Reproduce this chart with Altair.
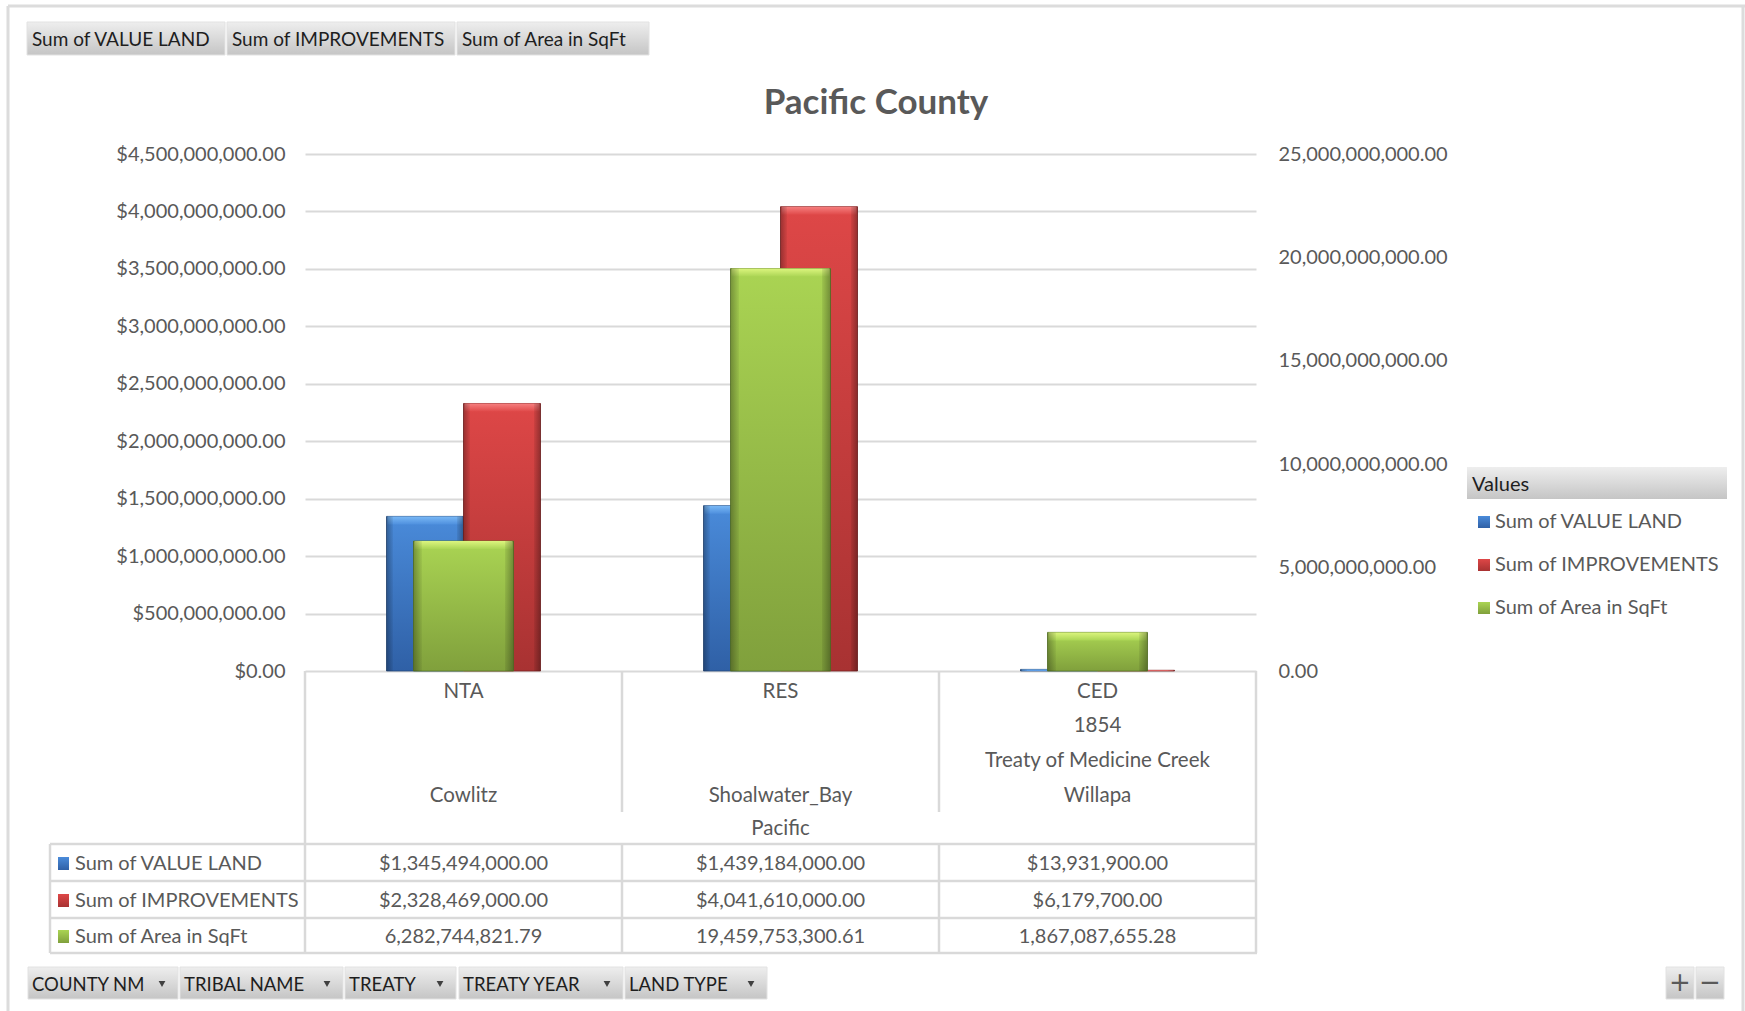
import altair as alt
import pandas as pd

# ---------------- data ----------------
land_types = ["NTA", "RES", "CED"]
treaty_years = ["", "", "1854"]
treaties = ["", "", "Treaty of Medicine Creek"]
tribal_names = ["Cowlitz", "Shoalwater_Bay", "Willapa"]
county_name = "Pacific"
value_land = [1345494000.00, 1439184000.00, 13931900.00]
improvements = [2328469000.00, 4041610000.00, 6179700.00]
area_sqft = [6282744821.79, 19459753300.61, 1867087655.28]
series_labels = ["Sum of VALUE LAND", "Sum of IMPROVEMENTS", "Sum of Area in SqFt"]
left_ticks = [0, 500000000, 1000000000, 1500000000, 2000000000,
              2500000000, 3000000000, 3500000000, 4000000000, 4500000000]
right_ticks = [0, 5000000000, 10000000000, 15000000000, 20000000000, 25000000000]
chart_title = "Pacific County"
legend_title = "Values"
field_buttons = ["COUNTY NM", "TRIBAL NAME", "TREATY", "TREATY YEAR", "LAND TYPE"]

df = pd.DataFrame({
    "land_type": land_types,
    "treaty_year": treaty_years,
    "treaty": treaties,
    "tribe": tribal_names,
    "value_land": value_land,
    "improvements": improvements,
    "area": area_sqft,
})
one = pd.DataFrame({"k": [0]})

# ---------------- layout ----------------
W, H = 951, 517
PL, PT = 305, 154
PR, PB = 1745 - PL - W, 1011 - PT - H
FONT = "Lato"
GRAY = "#595959"
LINE = "#d9d9d9"
FS = 20


def rx(v):
    return v - PL


def ry(v):
    return v - PT


def lin(stops, horizontal=False):
    return alt.LinearGradient(
        gradient="linear",
        stops=[alt.GradientStop(offset=o, color=c) for o, c in stops],
        x1=0, y1=0, x2=1 if horizontal else 0, y2=0 if horizontal else 1,
    )


X = alt.X("land_type:N", sort=land_types,
          scale=alt.Scale(domain=land_types, paddingInner=0, paddingOuter=0),
          axis=None)

SHADE = [(0, "rgba(0,0,0,0.30)"), (0.08, "rgba(0,0,0,0.06)"), (0.09, "rgba(0,0,0,0)"),
         (0.91, "rgba(0,0,0,0)"), (0.92, "rgba(0,0,0,0.08)"), (1, "rgba(0,0,0,0.32)")]


def bar_layers(field, body, top, stroke, width, xoff, ymax, axis):
    scale = alt.Scale(domain=[0, ymax], nice=False, zero=True)
    base = alt.Chart(df)
    layers = [
        base.mark_bar(size=width, xOffset=xoff, fill=lin(body), stroke=stroke,
                      strokeWidth=1, strokeOpacity=0.8)
        .encode(x=X, y=alt.Y(f"{field}:Q", scale=scale, axis=axis)),
        base.transform_calculate(bev=f"max(0, datum.{field} - {ymax * 8.0 / H})")
        .mark_bar(size=width - 2, xOffset=xoff, fill=lin(top))
        .encode(x=X, y=alt.Y(f"{field}:Q", scale=scale, axis=None), y2=alt.Y2("bev")),
        base.mark_bar(size=width, xOffset=xoff, fill=lin(SHADE, True))
        .encode(x=X, y=alt.Y(f"{field}:Q", scale=scale, axis=None)),
    ]
    return layers


left_axis = alt.Axis(orient="left", values=left_ticks,
                     labelExpr='"$" + format(datum.value, ",.2f")',
                     grid=True, gridColor=LINE, gridWidth=2, ticks=False, domain=False,
                     labelPadding=20, labelFontSize=FS, labelColor=GRAY, labelFont=FONT,
                     labelFlush=False, labelOverlap=False, title=None)
right_axis = alt.Axis(orient="right", values=right_ticks, format=",.2f",
                      grid=False, ticks=False, domain=False,
                      labelPadding=22, labelFontSize=FS, labelColor=GRAY, labelFont=FONT,
                      labelFlush=False, labelOverlap=False, title=None)

BLUE = [(0, "#4a8bda"), (1, "#2f60a6")]
BLUE_TOP = [(0, "#7ab9f6"), (1, "#4f90de")]
RED = [(0, "#de4747"), (1, "#a83232")]
RED_TOP = [(0, "#f68080"), (1, "#e04a4a")]
GREEN = [(0, "#aad453"), (1, "#80a03c")]
GREEN_TOP = [(0, "#dcf57e"), (1, "#abd555")]

bars = []
bars += bar_layers("value_land", BLUE, BLUE_TOP, "#254a7c", 77, -38.5, 4.5e9, left_axis)
bars += bar_layers("improvements", RED, RED_TOP, "#7a2020", 77, 38.5, 4.5e9, None)
bars += bar_layers("area", GREEN, GREEN_TOP, "#5b7a26", 100, 0, 25e9, right_axis)


# ---------------- decoration helpers ----------------
def dtext(text, x, y, size=FS, color=GRAY, align="left", weight="normal", font=FONT):
    return alt.Chart(one).mark_text(text=text, align=align, baseline="middle",
                                    fontSize=size, color=color, font=font,
                                    fontWeight=weight).encode(
        x=alt.value(rx(x)), y=alt.value(ry(y)))


def drect(x1, y1, x2, y2, fill, stroke=None):
    kw = {"fill": fill}
    if stroke:
        kw["stroke"] = stroke
        kw["strokeWidth"] = 1
    return alt.Chart(one).mark_rect(**kw).encode(
        x=alt.value(rx(x1)), x2=alt.value(rx(x2)),
        y=alt.value(ry(y1)), y2=alt.value(ry(y2)))


def hrule(x1, x2, y, color=LINE, w=2.5):
    return alt.Chart(one).mark_rule(color=color, strokeWidth=w).encode(
        x=alt.value(rx(x1)), x2=alt.value(rx(x2)), y=alt.value(ry(y)))


def vrule(x, y1, y2, color=LINE, w=2.5):
    return alt.Chart(one).mark_rule(color=color, strokeWidth=w).encode(
        x=alt.value(rx(x)), y=alt.value(ry(y1)), y2=alt.value(ry(y2)))


BTN = lin([(0, "#eeeeee"), (1, "#c5c5c5")])
deco = []

# outer panel border
deco.append(hrule(8, 1745, 6, color="#dcdcdc", w=3))
deco.append(vrule(8, 6, 1011, color="#dcdcdc", w=3))
deco.append(vrule(1743, 6, 1011, color="#dcdcdc", w=3))

# top value buttons
top_btn_x = [(27, 225), (227, 455), (457, 649)]
for (a, b), lab in zip(top_btn_x, series_labels):
    deco.append(drect(a, 22, b, 55, BTN, stroke="#e2e2e2"))
    deco.append(dtext(lab, a + 5, 40, size=19, color="#1e1e1e"))

# title
deco.append(dtext(chart_title, 876, 103, size=35, align="center", weight="bold"))

# category box lines
deco.append(vrule(PL, PT + H, 844))
deco.append(vrule(PL + W, PT + H, 844))
for i in (1, 2):
    deco.append(vrule(PL + W * i / 3, PT + H, 812))

# data table lines
TL = 50
for y in (844, 881, 918, 953):
    deco.append(hrule(TL, PL + W + 1, y))
for x in (TL, PL, PL + W / 3, PL + 2 * W / 3, PL + W):
    deco.append(vrule(x, 844, 953))

# category labels (multi-level axis)
cat_rows = [("land_type", 692), ("treaty_year", 726), ("treaty", 761), ("tribe", 796)]
cat_layers = [
    alt.Chart(df).mark_text(font=FONT, fontSize=20.5, color=GRAY, baseline="middle")
    .encode(x=X, y=alt.value(ry(yy)), text=f"{f}:N")
    for f, yy in cat_rows
]
cat_layers.append(dtext(county_name, PL + W / 2, 829, size=20.5, align="center"))

# data table values
table_rows = [
    ("value_land", '"$" + format(datum.value_land, ",.2f")', 864),
    ("improvements", '"$" + format(datum.improvements, ",.2f")', 901),
    ("area", 'format(datum.area, ",.2f")', 937),
]
table_layers = []
for f, expr, yy in table_rows:
    table_layers.append(
        alt.Chart(df).transform_calculate(txt=expr)
        .mark_text(font=FONT, fontSize=FS, color=GRAY, baseline="middle")
        .encode(x=X, y=alt.value(ry(yy)), text="txt:N"))

key_fills = [lin(BLUE), lin(RED), lin(GREEN)]
for (f, expr, yy), lab, kf in zip(table_rows, series_labels, key_fills):
    table_layers.append(drect(58, yy - 7, 69, yy + 6, kf))
    table_layers.append(dtext(lab, 75, yy))

# legend
legend = [drect(1467, 467, 1727, 499, BTN),
          dtext(legend_title, 1472, 485, color="#1e1e1e")]
for lab, kf, yy in zip(series_labels, key_fills, (522, 565, 608)):
    legend.append(drect(1478, yy - 6, 1490, yy + 6, kf))
    legend.append(dtext(lab, 1495, yy))

# bottom field buttons
bot_btn = [(28, 178), (180, 343), (345, 456), (459, 623), (625, 767)]
for (a, b), lab in zip(bot_btn, field_buttons):
    deco.append(drect(a, 967, b, 999, BTN, stroke="#e2e2e2"))
    deco.append(dtext(lab, a + 4, 985, size=18.5, color="#1e1e1e"))
    deco.append(alt.Chart(one).mark_point(shape="triangle-down", filled=True, size=45,
                                          color="#404040", opacity=1)
                .encode(x=alt.value(rx(b - 16)), y=alt.value(ry(984))))

# +/- buttons
deco.append(drect(1666, 967, 1694, 999, BTN, stroke="#e2e2e2"))
deco.append(drect(1696, 967, 1724, 999, BTN, stroke="#e2e2e2"))
deco.append(dtext("+", 1680, 983, size=26, color="#595959", align="center", font="DejaVu Sans"))
deco.append(dtext("\u2212", 1710, 983, size=26, color="#595959", align="center", font="DejaVu Sans"))

chart = alt.layer(*bars, *deco, *cat_layers, *table_layers, *legend).resolve_scale(
    y="independent"
).properties(
    width=W, height=H,
    padding={"left": PL, "top": PT, "right": PR, "bottom": PB},
    autosize=alt.AutoSizeParams(type="none"),
    background="white",
).configure_view(stroke=None)

chart.save("out.html", embed_options={"renderer": "svg", "actions": False})
